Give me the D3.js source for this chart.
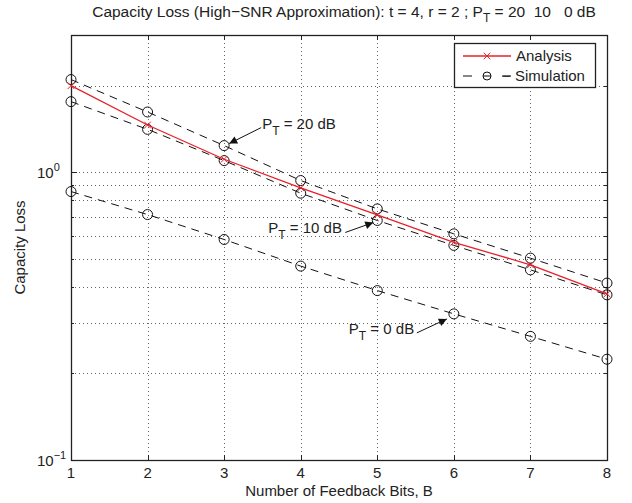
<!DOCTYPE html>
<html>
<head>
<meta charset="utf-8">
<script src="https://cdn.jsdelivr.net/npm/d3@7"></script>
<style>
body { margin: 0; background: #fff; }
svg text { font-family: "Liberation Sans", Arial, sans-serif; fill: #222; white-space: pre; }
</style>
</head>
<body>
<svg width="632" height="503"></svg>
<script>
// values
const bits = [1, 2, 3, 4, 5, 6, 7, 8];
const analysis = [2.0, 1.46, 1.11, 0.883, 0.711, 0.571, 0.477, 0.378];
const sim20 = [2.10, 1.62, 1.238, 0.936, 0.746, 0.611, 0.503, 0.412];
const sim10 = [1.76, 1.41, 1.098, 0.846, 0.68, 0.557, 0.458, 0.375];
const sim0 = [0.857, 0.713, 0.584, 0.472, 0.388, 0.322, 0.269, 0.224];
const yMajor = [0.1, 1];
const yMinor = [0.2, 0.3, 0.4, 0.5, 0.6, 0.7, 0.8, 0.9, 2, 3];

const svg = d3.select('svg');
const L = 71, R = 607, T = 35, B = 460;

const x = d3.scaleLinear().domain([1, 8]).range([L, R]);
const y = d3.scaleLog().domain([0.1, 3]).range([B, T]);

// arrow head
svg.append('defs').append('marker')
    .attr('id', 'head').attr('viewBox', '0 0 10 10')
    .attr('refX', 10).attr('refY', 5)
    .attr('markerWidth', 10).attr('markerHeight', 8)
    .attr('markerUnits', 'userSpaceOnUse')
    .attr('orient', 'auto')
    .append('path').attr('d', 'M0,0L10,5L0,10Z').attr('fill', '#111');

// grid
const grid = svg.append('g').attr('stroke', '#666').attr('stroke-width', 1)
    .attr('stroke-dasharray', '1,3');
grid.selectAll('.gx').data(bits.slice(1, -1)).join('line')
    .attr('x1', d => Math.round(x(d)) + 0.5).attr('x2', d => Math.round(x(d)) + 0.5)
    .attr('y1', T).attr('y2', B);
grid.selectAll('.gy').data([1].concat(yMinor.slice(0, -1))).join('line')
    .attr('x1', L).attr('x2', R)
    .attr('y1', d => Math.round(y(d)) + 0.5).attr('y2', d => Math.round(y(d)) + 0.5);

// ticks inside, all four sides
const ticks = svg.append('g').attr('stroke', '#222').attr('stroke-width', 1);
bits.forEach(b => {
    const px = Math.round(x(b)) + 0.5;
    ticks.append('line').attr('x1', px).attr('x2', px).attr('y1', B).attr('y2', B - 5);
    ticks.append('line').attr('x1', px).attr('x2', px).attr('y1', T).attr('y2', T + 5);
});
yMajor.concat(yMinor).forEach(v => {
    const py = Math.round(y(v)) + 0.5;
    const len = yMajor.includes(v) ? 6 : 3;
    ticks.append('line').attr('x1', L).attr('x2', L + len).attr('y1', py).attr('y2', py);
    ticks.append('line').attr('x1', R).attr('x2', R - len).attr('y1', py).attr('y2', py);
});

// box
svg.append('rect').attr('x', L + 0.5).attr('y', T + 0.5)
    .attr('width', R - L).attr('height', B - T)
    .attr('fill', 'none').attr('stroke', '#222').attr('stroke-width', 1.3);

// tick labels
svg.append('g').selectAll('text').data(bits).join('text')
    .attr('x', d => x(d)).attr('y', B + 18)
    .attr('text-anchor', 'middle').attr('font-size', 15)
    .text(d => d);

const yl = svg.append('g').selectAll('text').data(yMajor).join('text')
    .attr('x', 37).attr('y', d => y(d) + 6)
    .attr('font-size', 15);
yl.append('tspan').text('10');
yl.append('tspan').attr('dy', -7).attr('font-size', 11)
    .text(d => d === 1 ? '0' : '\u22121');

// axis titles
svg.append('text').attr('x', (L + R) / 2).attr('y', 496)
    .attr('text-anchor', 'middle').attr('font-size', 15)
    .text('Number of Feedback Bits, B');
svg.append('text').attr('transform', `translate(25,${(T + B) / 2}) rotate(-90)`)
    .attr('text-anchor', 'middle').attr('font-size', 15)
    .text('Capacity Loss');

const title = svg.append('text').attr('x', 344).attr('y', 17)
    .attr('text-anchor', 'middle').attr('font-size', 15.5);
title.append('tspan').text('Capacity Loss (High\u2212SNR Approximation): t = 4, r = 2 ; P');
title.append('tspan').attr('dy', 5).attr('font-size', 12).text('T');
title.append('tspan').attr('dy', -5).text(' = 20  10   0 dB');

// series
const line = d3.line().x((d, i) => x(bits[i])).y(d => y(d));

[sim20, sim10, sim0].forEach(s => {
    svg.append('path').datum(s).attr('d', line)
        .attr('fill', 'none').attr('stroke', '#111').attr('stroke-width', 1)
        .attr('stroke-dasharray', '8,6');
    svg.append('g').selectAll('circle').data(s).join('circle')
        .attr('cx', (d, i) => x(bits[i])).attr('cy', d => y(d)).attr('r', 5)
        .attr('fill', 'none').attr('stroke', '#111').attr('stroke-width', 1);
});

svg.append('path').datum(analysis).attr('d', line)
    .attr('fill', 'none').attr('stroke', '#e8202a').attr('stroke-width', 1.3);
svg.append('g').selectAll('path').data(analysis).join('path')
    .attr('d', d3.symbol(d3.symbolTimes, 30))
    .attr('transform', (d, i) => `translate(${x(bits[i])},${y(d)})`)
    .attr('fill', 'none').attr('stroke', '#e8202a').attr('stroke-width', 1);

// annotations: label, series, index, text position relative to point, tail, tip
const notes = [
    { dB: '20', s: sim20, i: 2, tx: 38, ty: -17, tail: [37, -18], tip: [5, -2] },
    { dB: '10', s: sim10, i: 4, tx: -109, ty: 13, tail: [-32, 12], tip: [-4, 2] },
    { dB: '0', s: sim0, i: 5, tx: -105, ty: 20, tail: [-37, 19], tip: [-7, 5] }
];
notes.forEach(n => {
    const px = x(bits[n.i]), py = y(n.s[n.i]);
    svg.append('line')
        .attr('x1', px + n.tail[0]).attr('y1', py + n.tail[1])
        .attr('x2', px + n.tip[0]).attr('y2', py + n.tip[1])
        .attr('stroke', '#111').attr('stroke-width', 1)
        .attr('marker-end', 'url(#head)');
    const t = svg.append('text').attr('x', px + n.tx).attr('y', py + n.ty)
        .attr('font-size', 15);
    t.append('tspan').text('P');
    t.append('tspan').attr('dy', 6).attr('font-size', 12).text('T');
    t.append('tspan').attr('dy', -6).text(` = ${n.dB} dB`);
});

// legend
const lg = svg.append('g');
lg.append('rect').attr('x', 454.5).attr('y', 43.5).attr('width', 141).attr('height', 44)
    .attr('fill', '#fff').attr('stroke', '#222').attr('stroke-width', 1.3);
lg.append('line').attr('x1', 463).attr('x2', 511).attr('y1', 56).attr('y2', 56)
    .attr('stroke', '#e8202a').attr('stroke-width', 1.3);
lg.append('path').attr('d', d3.symbol(d3.symbolTimes, 30))
    .attr('transform', 'translate(487,56)')
    .attr('fill', 'none').attr('stroke', '#e8202a');
lg.append('line').attr('x1', 463).attr('x2', 511).attr('y1', 76).attr('y2', 76)
    .attr('stroke', '#111').attr('stroke-dasharray', '9,30');
lg.append('circle').attr('cx', 487).attr('cy', 76).attr('r', 4)
    .attr('fill', 'none').attr('stroke', '#111');
lg.append('line').attr('x1', 483).attr('x2', 491).attr('y1', 76).attr('y2', 76)
    .attr('stroke', '#111');
lg.selectAll('text').data(['Analysis', '\u2212 Simulation']).join('text')
    .attr('x', (d, i) => i === 0 ? 516 : 502).attr('y', (d, i) => 61 + i * 20)
    .attr('font-size', 15).text(d => d);
</script>
</body>
</html>
